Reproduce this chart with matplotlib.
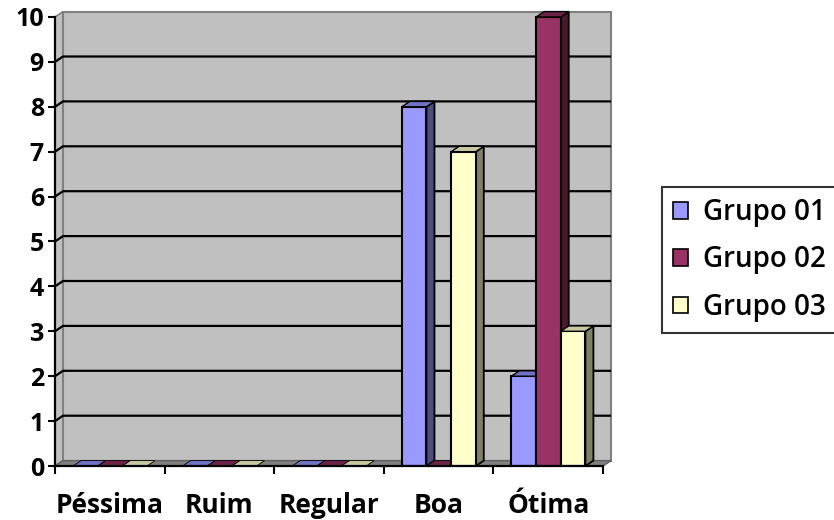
import matplotlib.pyplot as plt
from matplotlib.patches import Polygon, Rectangle, Patch

categorias = ["Péssima", "Ruim", "Regular", "Boa", "Ótima"]
grupos = ["Grupo 01", "Grupo 02", "Grupo 03"]
grupo1 = [0, 0, 0, 8, 2]
grupo2 = [0, 0, 0, 0, 10]
grupo3 = [0, 0, 0, 7, 3]
y_ticks = list(range(0, 11))

# front, side, top colours for each series
cores = [
    ("#9999ff", "#4d4d80", "#7272c4"),
    ("#993366", "#4a1930", "#6e2449"),
    ("#ffffcc", "#808066", "#c8c8a0"),
]

# depth of the fake 3d effect, in data units
dx = 0.073
dy = 0.12
largura = 0.225
inicio = 0.164

fig = plt.figure(figsize=(8.34, 5.2), dpi=100)
ax = fig.add_axes([55 / 834, 54 / 520, 559 / 834, 458 / 520])
ax.set_xlim(0, 5.1)
ax.set_ylim(0, 10.2)
n = len(categorias)

# walls and floor
ax.add_patch(Polygon([(0, 0), (dx, dy), (dx, 10 + dy), (0, 10)], closed=True,
                     facecolor="#c0c0c0", edgecolor="#808080", lw=1.2, zorder=1))
ax.add_patch(Rectangle((dx, dy), n, 10, facecolor="#c0c0c0",
                       edgecolor="#808080", lw=1.5, zorder=1))
ax.add_patch(Polygon([(0, 0), (n, 0), (n + dx, dy), (dx, dy)], closed=True,
                     facecolor="#808080", edgecolor="#606060", lw=1, zorder=2))

# gridlines across side wall and back wall
for v in y_ticks[1:-1]:
    ax.plot([0, dx, n + dx], [v, v + dy, v + dy], color="black", lw=1.6,
            zorder=2, solid_capstyle="butt")

series = [grupo1, grupo2, grupo3]
for i in range(n):
    for j, valores in enumerate(series):
        v = valores[i]
        frente, lado, topo = cores[j]
        x0 = i + inicio + j * largura
        x1 = x0 + largura
        if v > 0:
            ax.add_patch(Polygon([(x1, 0), (x1 + dx, dy), (x1 + dx, v + dy), (x1, v)],
                                 closed=True, facecolor=lado, edgecolor="black",
                                 lw=1.3, zorder=3))
            ax.add_patch(Rectangle((x0, 0), largura, v, facecolor=frente,
                                   edgecolor="black", lw=1.5, zorder=4))
        ax.add_patch(Polygon([(x0, v), (x1, v), (x1 + dx, v + dy), (x0 + dx, v + dy)],
                             closed=True, facecolor=topo, edgecolor="black",
                             lw=1.0 if v > 0 else 0.6, zorder=4))

for s in ["top", "right"]:
    ax.spines[s].set_visible(False)
ax.spines["left"].set_bounds(0, 10)
ax.spines["bottom"].set_bounds(0, n)
for s in ["left", "bottom"]:
    ax.spines[s].set_linewidth(1.6)
    ax.spines[s].set_zorder(6)

ax.set_yticks(y_ticks)
ax.set_yticklabels([str(t) for t in y_ticks], fontsize=18, fontweight="bold",
                   family="Open Sans")
ax.tick_params(axis="y", length=5, width=1.5, pad=3)

ax.set_xticks(range(n + 1))
ax.set_xticklabels([])
ax.tick_params(axis="x", which="major", length=6, width=1.5)
ax.set_xticks([i + 0.5 for i in range(n)], minor=True)
ax.set_xticklabels(categorias, minor=True, fontsize=19, fontweight="bold",
                   family="Open Sans")
ax.tick_params(axis="x", which="minor", length=0, pad=19)

handles = [Patch(facecolor=c[0], edgecolor="black", lw=1.2) for c in cores]
leg = fig.legend(handles, grupos, loc="upper left",
                 bbox_to_anchor=(662 / 834, 1 - 187 / 520),
                 prop={"family": "Open Sans", "weight": "semibold", "size": 20},
                 frameon=True, fancybox=False, borderaxespad=0,
                 handlelength=0.55, handleheight=0.55, handletextpad=0.52,
                 labelspacing=0.66, borderpad=0.4)
leg.get_frame().set_edgecolor("black")
leg.get_frame().set_linewidth(1.5)

fig.savefig("out.png", dpi=100)
